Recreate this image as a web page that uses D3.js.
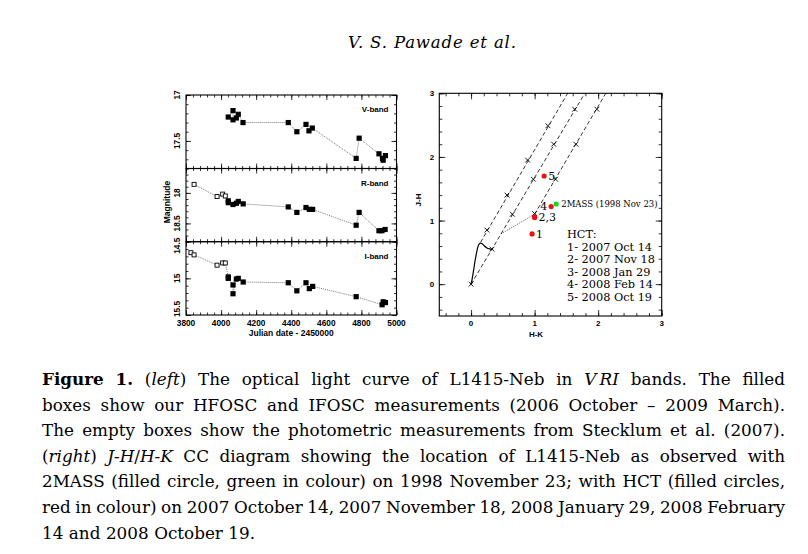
<!DOCTYPE html>
<html>
<head>
<meta charset="utf-8">
<script src="https://cdn.jsdelivr.net/npm/d3@7"></script>
<style>
  body { margin:0; background:#fff; }
  svg { display:block; }
</style>
</head>
<body>
<div id="chart"></div>
<script>

// ---- light curve data (JD - 2450000, magnitude) ----
const vJD   = [4041,4068,4068,4087,4098,4125,4383,4432,4484,4501,4520,4770,4787,4900,4920,4924,4937];
const vMag  = [17.24,17.17,17.27,17.25,17.21,17.30,17.30,17.40,17.32,17.39,17.36,17.69,17.47,17.64,17.69,17.71,17.66];

const rOpenJD  = [3846,3977,4009,4024];
const rOpenMag = [17.86,18.06,18.02,18.05];
const rJD   = [4041,4041,4068,4087,4098,4126,4383,4432,4484,4503,4522,4770,4787,4900,4917,4935];
const rMag  = [18.13,18.16,18.19,18.17,18.14,18.18,18.23,18.32,18.24,18.27,18.27,18.53,18.32,18.62,18.62,18.60];

const iOpenJD  = [3828,3846,3977,4009,4024];
const iOpenMag = [14.65,14.68,14.82,14.79,14.79];
const iJD   = [4041,4041,4068,4068,4087,4098,4126,4383,4432,4484,4503,4522,4770,4918,4924,4937];
const iMag  = [14.98,15.00,15.09,15.21,15.01,15.00,15.05,15.06,15.17,15.06,15.14,15.11,15.25,15.36,15.32,15.33];

const jdTicks = [3800,4000,4200,4400,4600,4800,5000];

// ---- colour-colour data ----
const hctHK = [0.96,1.00,1.00,1.26,1.15];
const hctJH = [0.79,1.05,1.06,1.22,1.70];
const hctLabels = ["1","2,3","4","5"];
const hctLabelHK = [0.96,1.00,1.26,1.15];
const hctLabelJH = [0.79,1.05,1.22,1.70];
const massHK = [1.34];
const massJH = [1.26];

// reddening vectors: start and end
const redStartHK = [0.15,0.00,1.00];
const redStartJH = [0.66,0.00,1.10];
const redEndHK   = [1.52,1.79,2.12];
const redEndJH   = [3.00,3.00,3.00];
// crosses along the vectors
const crossHK = [0.25,0.565,0.89,1.21, 0.00,0.33,0.65,0.98,1.30,1.63, 1.00,1.33,1.65,1.98];
const crossJH = [0.85,1.40,1.95,2.49, 0.00,0.55,1.10,1.65,2.20,2.75, 1.11,1.65,2.20,2.75];
// dwarf locus
const dwarfHK = [0,0.02,0.04,0.06,0.08,0.10,0.12,0.15,0.18,0.21,0.25,0.29,0.33];
const dwarfJH = [0,0.10,0.22,0.35,0.46,0.56,0.62,0.645,0.63,0.60,0.57,0.555,0.545];
// CTTS locus
const cttsHK = [0.47,1.00];
const cttsJH = [0.79,1.10];

const legendLines = ["HCT:","1- 2007 Oct 14","2- 2007 Nov 18","3- 2008 Jan 29","4- 2008 Feb 14","5- 2008 Oct 19"];

const captionLines = [
  "**Figure 1.** (_left_) The optical light curve of L1415-Neb in _V\u2009RI_ bands. The filled",
  "boxes show our HFOSC and IFOSC measurements (2006 October – 2009 March).",
  "The empty boxes show the photometric measurements from Stecklum et al. (2007).",
  "(_right_) _J-H_/_H-K_ CC diagram showing the location of L1415-Neb as observed with",
  "2MASS (filled circle, green in colour) on 1998 November 23; with HCT (filled circles,",
  "red in colour) on 2007 October 14, 2007 November 18, 2008 January 29, 2008 February",
  "14 and 2008 October 19."
];

const W = 808, H = 554;
const svg = d3.select("#chart").append("svg").attr("width",W).attr("height",H);

const sans = "'Liberation Sans', Arial, sans-serif";
const serif = "'DejaVu Serif', serif";

// header
svg.append("text")
  .attr("x",432).attr("y",48)
  .attr("text-anchor","middle")
  .attr("textLength",168).attr("lengthAdjust","spacing")
  .style("font-family",serif).style("font-style","italic").style("font-size","16.5px")
  .text("V. S. Pawade et al.");

// ================= left: light curves =================
const L = {x0:186, x1:396.5};
const xL = d3.scaleLinear().domain([3800,5000]).range([L.x0,L.x1]);
const xMinor = d3.range(3800,5001,40);

const panels = [
  {label:"V-band", dom:[17,17.8], top:95, bot:168.5, majors:[17,17.5],
   open:[[],[]], filled:[vJD,vMag]},
  {label:"R-band", dom:[17.6,18.8], top:168.5, bot:241.7, majors:[18,18.5],
   open:[rOpenJD,rOpenMag], filled:[rJD,rMag]},
  {label:"I-band", dom:[14.5,15.5], top:241.7, bot:315, majors:[14.5,15,15.5],
   open:[iOpenJD,iOpenMag], filled:[iJD,iMag]}
];

const gL = svg.append("g");

panels.forEach((p,pi) => {
  const y = d3.scaleLinear().domain(p.dom).range([p.top,p.bot]);
  const yMinor = d3.range(Math.ceil(p.dom[0]*10), Math.floor(p.dom[1]*10)+1).map(d => d/10);
  const g = gL.append("g");

  const addAxis = (axis, tx, ty) => {
    const a = g.append("g").attr("transform",`translate(${tx},${ty})`).call(axis);
    a.select(".domain").remove();
    a.selectAll("line").attr("stroke","#000").attr("stroke-width",0.8);
    a.selectAll("text").remove();
  };
  // x ticks on top and bottom of each panel
  addAxis(d3.axisTop(xL).tickValues(xMinor).tickSize(-2.5), 0, p.top);
  addAxis(d3.axisTop(xL).tickValues(jdTicks).tickSize(-5), 0, p.top);
  addAxis(d3.axisBottom(xL).tickValues(xMinor).tickSize(-2.5), 0, p.bot);
  addAxis(d3.axisBottom(xL).tickValues(jdTicks).tickSize(-5), 0, p.bot);
  // y ticks on left and right
  addAxis(d3.axisLeft(y).tickValues(yMinor).tickSize(-2.5), L.x0, 0);
  addAxis(d3.axisLeft(y).tickValues(p.majors).tickSize(-5), L.x0, 0);
  addAxis(d3.axisRight(y).tickValues(yMinor).tickSize(-2.5), L.x1, 0);
  addAxis(d3.axisRight(y).tickValues(p.majors).tickSize(-5), L.x1, 0);

  g.append("rect")
    .attr("x",L.x0).attr("y",p.top).attr("width",L.x1-L.x0).attr("height",p.bot-p.top)
    .attr("fill","none").attr("stroke","#000").attr("stroke-width",1.1);

  // y tick labels, rotated; labels sitting on a panel edge are nudged inside
  g.selectAll(".ylab").data(p.majors).enter().append("text")
    .attr("transform", d => {
      let yy = y(d);
      if (d === p.dom[0] && pi > 0) yy += 4;
      if (d === p.dom[1]) yy -= 6;
      return `translate(${L.x0-6},${yy}) rotate(-90)`;
    })
    .attr("text-anchor","middle")
    .style("font-family",sans).style("font-size","8.3px").style("font-weight","bold")
    .text(d => d3.format("")(d));

  g.append("text")
    .attr("x",L.x1-8).attr("y",p.top+17)
    .attr("text-anchor","end")
    .style("font-family",sans).style("font-size","8px").style("font-weight","bold")
    .text(p.label);

  // connecting dotted line, chronological
  const pts = p.open[0].map((d,i) => [d,p.open[1][i]])
    .concat(p.filled[0].map((d,i) => [d,p.filled[1][i]]));
  g.append("path")
    .attr("d", d3.line().x(d => xL(d[0])).y(d => y(d[1]))(pts))
    .attr("fill","none").attr("stroke","#555").attr("stroke-width",0.8)
    .attr("stroke-dasharray","1,1");

  g.selectAll(".open").data(p.open[0]).enter().append("rect")
    .attr("x",(d) => xL(d)-2).attr("y",(d,i) => y(p.open[1][i])-2)
    .attr("width",4).attr("height",4)
    .attr("fill","#fff").attr("stroke","#000").attr("stroke-width",0.9);

  g.selectAll(".filled").data(p.filled[0]).enter().append("rect")
    .attr("x",(d) => xL(d)-2.6).attr("y",(d,i) => y(p.filled[1][i])-2.6)
    .attr("width",5.2).attr("height",5.2)
    .attr("fill","#000");

  if (pi === panels.length-1) {
    gL.selectAll(".xlab").data(jdTicks).enter().append("text")
      .attr("x",d => xL(d)).attr("y",p.bot+11)
      .attr("text-anchor","middle")
      .style("font-family",sans).style("font-size","8.3px").style("font-weight","bold")
      .text(d => d);
  }
});

gL.append("text")
  .attr("x",(L.x0+L.x1)/2).attr("y",336)
  .attr("text-anchor","middle")
  .style("font-family",sans).style("font-size","8.5px").style("font-weight","bold")
  .text("Julian date - 2450000");

gL.append("text")
  .attr("transform","translate(170,202) rotate(-90)")
  .attr("text-anchor","middle")
  .style("font-family",sans).style("font-size","8.5px").style("font-weight","bold")
  .text("Magnitude");

// ================= right: J-H / H-K =================
const R = {x0:439.3, x1:661.7, top:93.3, bot:316};
const xR = d3.scaleLinear().domain([-0.5,3]).range([R.x0,R.x1]);
const yR = d3.scaleLinear().domain([-0.5,3]).range([R.bot,R.top]);
const rMinor = d3.range(-4,31,2).map(d => d/10);
const rMajor = [0,1,2,3];

const gR = svg.append("g");
const addAxisR = (axis, tx, ty) => {
  const a = gR.append("g").attr("transform",`translate(${tx},${ty})`).call(axis);
  a.select(".domain").remove();
  a.selectAll("line").attr("stroke","#000").attr("stroke-width",0.8);
  a.selectAll("text").remove();
};
addAxisR(d3.axisBottom(xR).tickValues(rMinor).tickSize(-3), 0, R.bot);
addAxisR(d3.axisBottom(xR).tickValues(rMajor).tickSize(-6), 0, R.bot);
addAxisR(d3.axisTop(xR).tickValues(rMinor).tickSize(-3), 0, R.top);
addAxisR(d3.axisTop(xR).tickValues(rMajor).tickSize(-6), 0, R.top);
addAxisR(d3.axisLeft(yR).tickValues(rMinor).tickSize(-3), R.x0, 0);
addAxisR(d3.axisLeft(yR).tickValues(rMajor).tickSize(-6), R.x0, 0);
addAxisR(d3.axisRight(yR).tickValues(rMinor).tickSize(-3), R.x1, 0);
addAxisR(d3.axisRight(yR).tickValues(rMajor).tickSize(-6), R.x1, 0);

gR.append("rect")
  .attr("x",R.x0).attr("y",R.top).attr("width",R.x1-R.x0).attr("height",R.bot-R.top)
  .attr("fill","none").attr("stroke","#000").attr("stroke-width",1.1);

gR.selectAll(".xlab").data(rMajor).enter().append("text")
  .attr("x",d => xR(d)).attr("y",R.bot+10)
  .attr("text-anchor","middle")
  .style("font-family",sans).style("font-size","8px").style("font-weight","bold")
  .text(d => d);
gR.selectAll(".ylab").data(rMajor).enter().append("text")
  .attr("x",R.x0-5).attr("y",d => yR(d)+3)
  .attr("text-anchor","end")
  .style("font-family",sans).style("font-size","8px").style("font-weight","bold")
  .text(d => d);

gR.append("text")
  .attr("x",536).attr("y",337)
  .attr("text-anchor","middle")
  .style("font-family",sans).style("font-size","8px").style("font-weight","bold")
  .text("H-K");
gR.append("text")
  .attr("transform","translate(421,200) rotate(-90)")
  .attr("text-anchor","middle")
  .style("font-family",sans).style("font-size","8px").style("font-weight","bold")
  .text("J-H");

gR.append("clipPath").attr("id","clipR").append("rect")
  .attr("x",R.x0).attr("y",R.top).attr("width",R.x1-R.x0).attr("height",R.bot-R.top);
const gIn = gR.append("g").attr("clip-path","url(#clipR)");

// reddening vectors
gIn.selectAll(".red").data(redStartHK).enter().append("line")
  .attr("x1",d => xR(d)).attr("y1",(d,i) => yR(redStartJH[i]))
  .attr("x2",(d,i) => xR(redEndHK[i])).attr("y2",(d,i) => yR(redEndJH[i]))
  .attr("stroke","#000").attr("stroke-width",0.8).attr("stroke-dasharray","4,2.5");

// CTTS locus
gIn.append("path")
  .attr("d", d3.line().x(d => xR(d[0])).y(d => yR(d[1]))(cttsHK.map((d,i) => [d,cttsJH[i]])))
  .attr("fill","none").attr("stroke","#000").attr("stroke-width",0.7)
  .attr("stroke-dasharray","1,1.3");

// dwarf locus
gIn.append("path")
  .attr("d", d3.line().curve(d3.curveMonotoneX).x(d => xR(d[0])).y(d => yR(d[1]))(dwarfHK.map((d,i) => [d,dwarfJH[i]])))
  .attr("fill","none").attr("stroke","#000").attr("stroke-width",1.2);

// crosses
const cr = 2.4;
gIn.selectAll(".cross").data(crossHK).enter().append("path")
  .attr("d",(d,i) => {
    const cx = xR(d), cy = yR(crossJH[i]);
    return `M${cx-cr},${cy-cr}L${cx+cr},${cy+cr}M${cx-cr},${cy+cr}L${cx+cr},${cy-cr}`;
  })
  .attr("stroke","#000").attr("stroke-width",0.9);

// HCT points
gIn.selectAll(".hct").data(hctHK).enter().append("circle")
  .attr("cx",d => xR(d)).attr("cy",(d,i) => yR(hctJH[i])).attr("r",2.6)
  .attr("fill","#ee1111");
gIn.selectAll(".mass").data(massHK).enter().append("circle")
  .attr("cx",d => xR(d)).attr("cy",(d,i) => yR(massJH[i])).attr("r",2.6)
  .attr("fill","#11dd11");

// point labels
const labDx = [4,4,-11,4];
const labDy = [4,4,3,4];
gR.selectAll(".plab").data(hctLabels).enter().append("text")
  .attr("x",(d,i) => xR(hctLabelHK[i]) + labDx[i])
  .attr("y",(d,i) => yR(hctLabelJH[i]) + labDy[i])
  .style("font-family",serif).style("font-size","11px")
  .text(d => d);

gR.append("text")
  .attr("x",xR(massHK[0])+5).attr("y",yR(massJH[0])+3)
  .style("font-family",serif).style("font-size","8.5px")
  .text("2MASS (1998 Nov 23)");

gR.selectAll(".leg").data(legendLines).enter().append("text")
  .attr("x",567).attr("y",(d,i) => 238 + i*12.6)
  .style("font-family",serif).style("font-size","11.3px")
  .text(d => d);

// ================= caption (justified) =================
const cap = svg.append("g").style("font-family",serif).style("font-size","16.8px").attr("fill","#000");
const capX0 = 42, capX1 = 785;

function parseWords(str) {
  let bold = false, ital = false;
  const words = [];
  let cur = [], buf = "";
  const flush = () => { if (buf) { cur.push({t:buf,b:bold,i:ital}); buf = ""; } };
  for (let k = 0; k < str.length; k++) {
    const c = str[k];
    if (c === "*" && str[k+1] === "*") { flush(); bold = !bold; k++; continue; }
    if (c === "_") { flush(); ital = !ital; continue; }
    if (c === " ") { flush(); if (cur.length) words.push(cur); cur = []; continue; }
    buf += c;
  }
  flush(); if (cur.length) words.push(cur);
  return words;
}

captionLines.forEach((line,li) => {
  const y = 385 + li*25.6;
  const words = parseWords(line);
  const nodes = words.map(w => {
    const t = cap.append("text").attr("y",y);
    w.forEach(r => {
      t.append("tspan").text(r.t)
        .style("font-weight", r.b ? "bold" : "normal")
        .style("font-style", r.i ? "italic" : "normal");
    });
    return t;
  });
  const widths = nodes.map(n => n.node().getComputedTextLength());
  const total = d3.sum(widths);
  const last = li === captionLines.length-1;
  const gap = last ? 5.5 : (capX1 - capX0 - total)/(nodes.length-1);
  let x = capX0;
  nodes.forEach((n,k) => { n.attr("x",x); x += widths[k] + gap; });
});

</script>
</body>
</html>
